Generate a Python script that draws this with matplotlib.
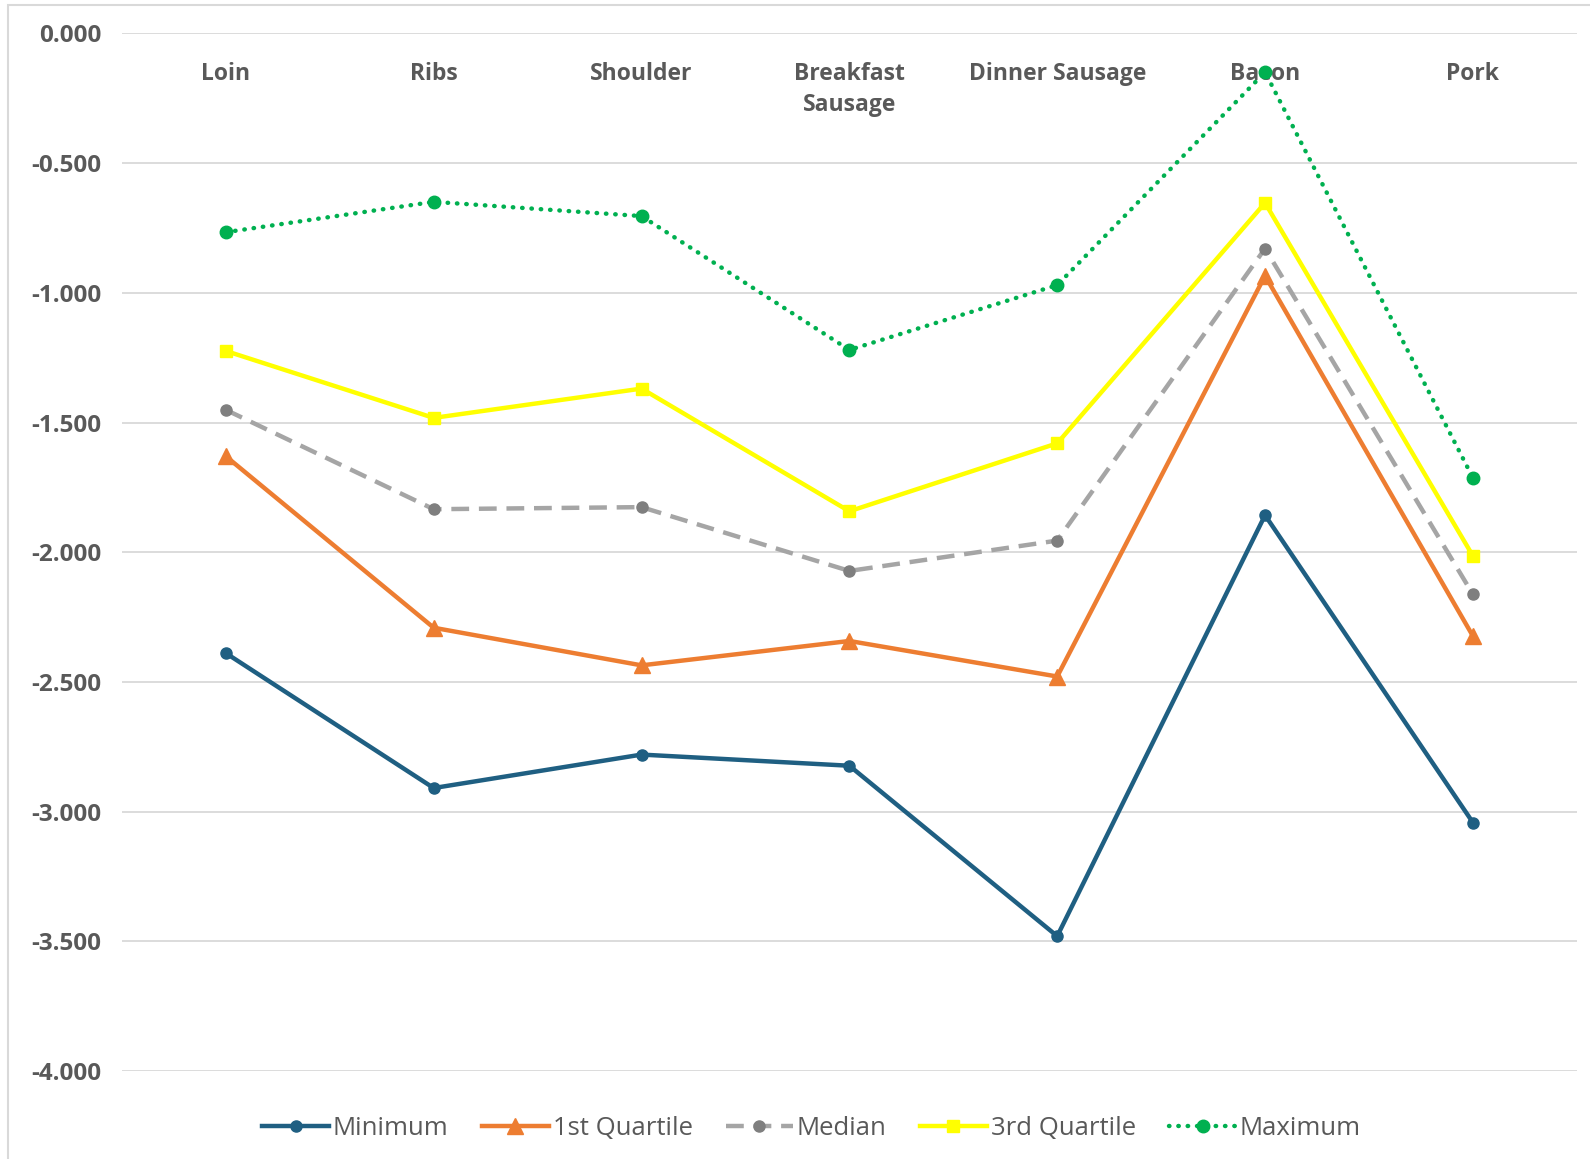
import matplotlib.pyplot as plt
from matplotlib.patches import Rectangle

plt.rcParams['font.family'] = ['Open Sans', 'DejaVu Sans']

# cuts of pork along the x axis
cuts = ["Loin", "Ribs", "Shoulder", "Breakfast\nSausage", "Dinner Sausage", "Bacon", "Pork"]

minimum = [-2.389, -2.909, -2.780, -2.823, -3.480, -1.857, -3.042]
q1 = [-1.630, -2.291, -2.436, -2.342, -2.479, -0.934, -2.323]
median = [-1.451, -1.834, -1.826, -2.072, -1.955, -0.829, -2.162]
q3 = [-1.224, -1.482, -1.369, -1.842, -1.580, -0.653, -2.014]
maximum = [-0.766, -0.649, -0.704, -1.220, -0.970, -0.149, -1.713]

yticks = [0, -0.5, -1.0, -1.5, -2.0, -2.5, -3.0, -3.5, -4.0]

fig = plt.figure(figsize=(15.9, 11.59), dpi=100)
ax = fig.add_axes([0.0767, 0.0759, 0.915, 0.8952])

# chart border
fig.patches.append(Rectangle((0.005, -0.01), 1.2, 1.006, transform=fig.transFigure,
                             fill=False, edgecolor="#d9d9d9", linewidth=1.5))

x = list(range(len(cuts)))
lw = 3.2
ax.plot(x, minimum, color="#1f5f82", lw=lw, marker="o", ms=8, label="Minimum", zorder=3)
ax.plot(x, q1, color="#ed7d31", lw=lw, marker="^", ms=11, label="1st Quartile", zorder=3)
ax.plot(x, median, color="#a5a5a5", lw=lw, ls=(0, (4, 2.2)), marker="o", ms=8,
        mfc="#7f7f7f", mec="#7f7f7f", label="Median", zorder=3)
ax.plot(x, q3, color="#ffff00", lw=lw, marker="s", ms=8, label="3rd Quartile", zorder=3)
ax.plot(x, maximum, color="#00b050", lw=lw, ls=(0, (0.1, 2.0)), dash_capstyle="round",
        marker="o", ms=9, label="Maximum", zorder=3)

ax.set_xlim(-0.5, len(cuts) - 0.5)
ax.set_ylim(-4.0, 0.0)
ax.set_yticks(yticks)
ax.set_yticklabels([f"{v:.3f}" for v in yticks], fontsize=17.5, fontweight="bold", color="#595959")
ax.tick_params(axis="y", length=0, pad=15)
ax.set_xticks([])
ax.grid(axis="y", color="#d9d9d9", lw=1.3)
ax.set_axisbelow(True)
for s in ax.spines.values():
    s.set_visible(False)

# category labels sit just under the zero line
for i, c in enumerate(cuts):
    ax.text(i, -0.11, c, ha="center", va="top", fontsize=16.5, fontweight="bold",
            color="#595959", linespacing=1.4, zorder=2)

leg = ax.legend(loc="center", bbox_to_anchor=(0.474, -0.055), ncol=5, frameon=False,
                fontsize=18.5, handlelength=2.6, columnspacing=1.3, handletextpad=0.15)
for t in leg.get_texts():
    t.set_color("#595959")

fig.savefig("out.png", dpi=100)
